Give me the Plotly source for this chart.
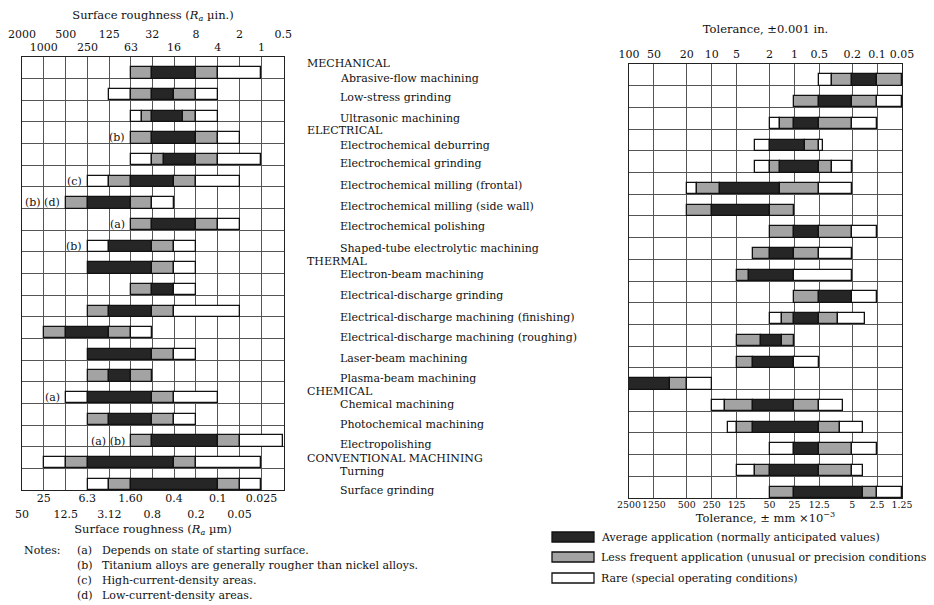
import plotly.graph_objects as go
import math

# ---------------- data ----------------
processes = [
    "Abrasive-flow machining", "Low-stress grinding", "Ultrasonic machining",
    "Electrochemical deburring", "Electrochemical grinding",
    "Electrochemical milling (frontal)", "Electrochemical milling (side wall)",
    "Electrochemical polishing", "Shaped-tube electrolytic machining",
    "Electron-beam machining", "Electrical-discharge grinding",
    "Electrical-discharge machining (finishing)", "Electrical-discharge machining (roughing)",
    "Laser-beam machining", "Plasma-beam machining",
    "Chemical machining", "Photochemical machining", "Electropolishing",
    "Turning", "Surface grinding",
]
groups = ["MECHANICAL", "ELECTRICAL", "THERMAL", "CHEMICAL", "CONVENTIONAL MACHINING"]

# Surface roughness, Ra (µin.) - band edges, left to right:
# rare | less frequent | average | less frequent | rare
rough_e0 = [63, 125, 63, 63, 63, 250, 500, 63, 250, 250, 63, 250, 1000, 250, 250, 500, 250, 63, 1000, 250]
rough_e1 = [63, 63, 44, 63, 32, 125, 500, 63, 125, 250, 63, 250, 1000, 250, 250, 250, 250, 63, 500, 125]
rough_e2 = [32, 32, 32, 32, 22, 63, 250, 32, 125, 250, 32, 125, 500, 250, 125, 250, 125, 32, 250, 63]
rough_e3 = [8, 16, 12, 8, 8, 16, 63, 8, 32, 32, 16, 32, 125, 32, 63, 32, 32, 4, 16, 4]
rough_e4 = [4, 8, 8, 4, 4, 8, 32, 4, 16, 16, 16, 16, 63, 16, 32, 16, 16, 2, 8, 2]
rough_e5 = [1, 4, 4, 2, 1, 2, 16, 2, 8, 8, 8, 2, 32, 8, 32, 4, 8, 0.5, 1, 1]

# Tolerance, ±0.001 in. - band edges, left to right
tol_e0 = [0.5, 1, 2, 3, 3, 20, 20, 2, 3.2, 5, 1, 2, 5, 5, 100, 10, 6.3, 2, 5, 2]
tol_e1 = [0.35, 1, 1.5, 2, 2, 15, 20, 2, 3.2, 5, 1, 1.4, 5, 5, 100, 7, 5, 1, 3, 2]
tol_e2 = [0.2, 0.5, 1, 2, 1.5, 8, 10, 1, 2, 3.5, 0.5, 1, 2.5, 3.2, 100, 3.2, 3.2, 1, 2, 1]
tol_e3 = [0.1, 0.2, 0.5, 0.75, 0.5, 1.5, 2, 0.5, 1, 1, 0.2, 0.5, 1.4, 1, 32, 1, 0.5, 0.5, 0.5, 0.15]
tol_e4 = [0.05, 0.1, 0.2, 0.5, 0.35, 0.5, 1, 0.2, 0.5, 1, 0.2, 0.3, 1, 1, 20, 0.5, 0.28, 0.2, 0.2, 0.1]
tol_e5 = [0.05, 0.05, 0.1, 0.45, 0.2, 0.2, 1, 0.1, 0.2, 0.2, 0.1, 0.14, 1, 0.5, 10, 0.26, 0.15, 0.1, 0.15, 0.05]

row_notes = {3: "(b)", 5: "(c)", 6: "(b) (d)", 7: "(a)", 8: "(b)", 15: "(a)", 17: "(a) (b)"}

# Axis ticks
rough_uin_ticks = [2000, 1000, 500, 250, 125, 63, 32, 16, 8, 4, 2, 1, 0.5]
rough_uin_text = ["2000", "1000", "500", "250", "125", "63", "32", "16", "8", "4", "2", "1", "0.5"]
rough_um_ticks = [50, 25, 12.5, 6.3, 3.12, 1.60, 0.8, 0.4, 0.2, 0.1, 0.05, 0.025, 0.012]
rough_um_text = ["50", "25", "12.5", "6.3", "3.12", "1.60", "0.8", "0.4", "0.2", "0.1", "0.05", "0.025", "0.012"]
tol_in_ticks = [100, 50, 20, 10, 5, 2, 1, 0.5, 0.2, 0.1, 0.05]
tol_in_text = ["100", "50", "20", "10", "5", "2", "1", "0.5", "0.2", "0.1", "0.05"]
tol_mm_ticks = [2500, 1250, 500, 250, 125, 50, 25, 12.5, 5, 2.5, 1.25]
tol_mm_text = ["2500", "1250", "500", "250", "125", "50", "25", "12.5", "5", "2.5", "1.25"]

legend_labels = [
    "Average application (normally anticipated values)",
    "Less frequent application (unusual or precision conditions)",
    "Rare (special operating conditions)",
]
notes_lines = [
    ("(a)", "Depends on state of starting surface."),
    ("(b)", "Titanium alloys are generally rougher than nickel alloys."),
    ("(c)", "High-current-density areas."),
    ("(d)", "Low-current-density areas."),
]

# ---------------- style / layout ----------------
W, H = 934, 605
OFF = 8  # page margin of the html body
FONT = "DejaVu Serif"
FS = 11
BLACK, GRAY, WHITE = "#262626", "#a3a3a3", "#ffffff"
seg_colors = [WHITE, GRAY, BLACK, GRAY, WHITE]
seg_names = ["Rare", "Less frequent", "Average", "Less frequent", "Rare"]
GRIDC = "#555555"


def px_x(p):
    return (p - OFF) / W


def px_y(p):
    return 1 - (p - OFF) / H


N = len(processes)
bar_pos = [i + 0.74 for i in range(N)]
BAR_W = 0.52

fig = go.Figure()


def add_bars(edges, xaxis, yaxis):
    for k in range(5):
        lo = edges[k]
        hi = edges[k + 1]
        base, size = [], []
        for a, b in zip(lo, hi):
            if a == b:
                base.append(None)
                size.append(None)
            else:
                base.append(min(a, b))
                size.append(abs(a - b))
        fig.add_trace(go.Bar(
            orientation="h", y=bar_pos, x=size, base=base, width=BAR_W,
            marker=dict(color=seg_colors[k], line=dict(color="#111111", width=1.3)),
            name=seg_names[k], showlegend=False, xaxis=xaxis, yaxis=yaxis,
            hoverinfo="skip",
        ))


add_bars([rough_e0, rough_e1, rough_e2, rough_e3, rough_e4, rough_e5], "x", "y")
add_bars([tol_e0, tol_e1, tol_e2, tol_e3, tol_e4, tol_e5], "x2", "y2")


# invisible helper traces so that the secondary (overlay) axes are rendered
def helper(xvals, xaxis, yaxis):
    fig.add_trace(go.Scatter(x=xvals, y=[0] * len(xvals), mode="markers",
                             marker=dict(opacity=0, size=1), xaxis=xaxis, yaxis=yaxis,
                             hoverinfo="skip", showlegend=False))


helper(rough_uin_ticks, "x3", "y")
helper(rough_um_ticks, "x4", "y")
helper(rough_um_ticks, "x5", "y")
helper(tol_mm_ticks, "x6", "y2")

# geometry (reference pixels)
L_X0, L_X1, L_Y0, L_Y1 = 22, 284, 57, 490
R_X0, R_X1, R_Y0, R_Y1 = 629, 902, 64, 498

tickfont = dict(family=FONT, size=FS, color="#111")
titlefont = dict(family=FONT, size=FS + 0.5, color="#111")

rough_range = [math.log10(2000), math.log10(2000 / 4096)]
rough_um_range = [math.log10(50), math.log10(50 / 4096)]
tol_range = [2, math.log10(0.05)]
tol_mm_range = [math.log10(2500), math.log10(1.25)]

near_top_vals = [v for i, v in enumerate(rough_uin_ticks) if i % 2 == 1]
near_top_text = [t for i, t in enumerate(rough_uin_text) if i % 2 == 1]
far_top_vals = [v for i, v in enumerate(rough_uin_ticks) if i % 2 == 0]
far_top_text = [t for i, t in enumerate(rough_uin_text) if i % 2 == 0]
near_bot_vals = [v for i, v in enumerate(rough_um_ticks) if i % 2 == 1]
near_bot_text = [t for i, t in enumerate(rough_um_text) if i % 2 == 1]
far_bot_vals = [v for i, v in enumerate(rough_um_ticks) if i % 2 == 0]
far_bot_text = [t for i, t in enumerate(rough_um_text) if i % 2 == 0]

common_axis = dict(type="log", autorange=False, ticks="", zeroline=False,
                   automargin=False, fixedrange=True, tickangle=0)
grid = dict(showgrid=True, gridcolor=GRIDC, gridwidth=1)

fig.update_layout(
    template="none",
    width=W, height=H,
    margin=dict(l=0, r=0, t=0, b=0, pad=0),
    paper_bgcolor="white", plot_bgcolor="white",
    barmode="overlay", bargap=0,
    font=dict(family=FONT, size=FS, color="#111"),
    showlegend=False,
    xaxis=dict(**common_axis, **grid, tickfont=tickfont, domain=[px_x(L_X0), px_x(L_X1)],
               range=rough_range, anchor="y", side="top", tickvals=near_top_vals,
               ticktext=near_top_text,
               showline=True, mirror=True, linecolor="#222", linewidth=1.3),
    xaxis3=dict(**common_axis, **grid, tickfont=tickfont, range=rough_range, overlaying="x",
                anchor="free", position=px_y(L_Y0 - 17), side="top", tickvals=far_top_vals,
                ticktext=far_top_text, showline=False,
                title=dict(text="Surface roughness (<i>R</i><sub><i>a</i></sub> µin.)",
                           font=titlefont, standoff=9)),
    xaxis4=dict(**common_axis, tickfont=tickfont, range=rough_um_range, overlaying="x",
                anchor="y", side="bottom", tickvals=near_bot_vals, ticktext=near_bot_text,
                showgrid=False, showline=False),
    xaxis5=dict(**common_axis, tickfont=tickfont, range=rough_um_range, overlaying="x",
                anchor="free", position=px_y(L_Y1 + 16), side="bottom", tickvals=far_bot_vals,
                ticktext=far_bot_text, showgrid=False, showline=False,
                title=dict(text="Surface roughness (<i>R</i><sub><i>a</i></sub> µm)",
                           font=titlefont, standoff=4)),
    yaxis=dict(domain=[px_y(L_Y1), px_y(L_Y0)], range=[N, 0], autorange=False,
               tickvals=list(range(N + 1)), showticklabels=False, ticks="", **grid,
               zeroline=False, automargin=False,
               showline=True, mirror=True, linecolor="#222", linewidth=1.3, anchor="x",
               fixedrange=True),
    xaxis2=dict(**common_axis, **grid, tickfont=tickfont, domain=[px_x(R_X0), px_x(R_X1)],
                range=tol_range, anchor="y2", side="top", tickvals=tol_in_ticks,
                ticktext=tol_in_text,
                showline=True, mirror=True, linecolor="#222", linewidth=1.3,
                title=dict(text="Tolerance, ±0.001 in.", font=titlefont, standoff=12)),
    xaxis6=dict(**common_axis, tickfont=dict(family=FONT, size=9.4, color="#111"),
                range=tol_mm_range, overlaying="x2", anchor="y2", side="bottom",
                tickvals=tol_mm_ticks, ticktext=tol_mm_text, showgrid=False, showline=False,
                title=dict(text="Tolerance, ± mm ×10<sup>−3</sup>", font=titlefont, standoff=3)),
    yaxis2=dict(domain=[px_y(R_Y1), px_y(R_Y0)], range=[N, 0], autorange=False,
                tickvals=list(range(N + 1)), showticklabels=False, ticks="", **grid,
                zeroline=False, automargin=False,
                showline=True, mirror=True, linecolor="#222", linewidth=1.3, anchor="x2",
                fixedrange=True),
)

annotations = []
txtfont = dict(family=FONT, size=FS, color="#111")
# category labels in the middle column
label_rows_px = [78, 98, 118, 145, 163, 185, 206, 227, 249, 274, 295, 317, 337, 358, 378, 405, 425, 444, 471, 490]
group_px = [63, 130, 261, 391, 458]
for g, py in zip(groups, group_px):
    annotations.append(dict(text=g, x=px_x(305), y=px_y(py), xref="paper", yref="paper",
                            xanchor="left", yanchor="middle", showarrow=False, font=txtfont))
for name, py in zip(processes, label_rows_px):
    annotations.append(dict(text=name, x=px_x(338), y=px_y(py), xref="paper", yref="paper",
                            xanchor="left", yanchor="middle", showarrow=False, font=txtfont))

# footnote markers next to the roughness bars
for r, txt in row_notes.items():
    annotations.append(dict(text=txt, x=math.log10(rough_e0[r]), y=bar_pos[r], xref="x", yref="y",
                            xanchor="right", yanchor="middle", xshift=-4, showarrow=False,
                            font=txtfont))

# notes block
annotations.append(dict(text="Notes:", x=px_x(22), y=px_y(550), xref="paper", yref="paper",
                        xanchor="left", yanchor="middle", showarrow=False, font=txtfont))
for i, (tag, txt) in enumerate(notes_lines):
    py = 550 + i * 15.3
    annotations.append(dict(text=tag, x=px_x(75), y=px_y(py), xref="paper", yref="paper",
                            xanchor="left", yanchor="middle", showarrow=False, font=txtfont))
    annotations.append(dict(text=txt, x=px_x(100), y=px_y(py), xref="paper", yref="paper",
                            xanchor="left", yanchor="middle", showarrow=False, font=txtfont))

# legend (swatches + text)
shapes = []
legend_fill = [BLACK, GRAY, WHITE]
legend_py = [537, 557, 578]
for lab, col, py in zip(legend_labels, legend_fill, legend_py):
    shapes.append(dict(type="rect", xref="paper", yref="paper",
                       x0=px_x(552), x1=px_x(594), y0=px_y(py + 5), y1=px_y(py - 5),
                       fillcolor=col, line=dict(color="#111", width=1.3)))
    annotations.append(dict(text=lab, x=px_x(599), y=px_y(py), xref="paper", yref="paper",
                            xanchor="left", yanchor="middle", showarrow=False, font=txtfont))

fig.update_layout(annotations=annotations, shapes=shapes)
fig.write_html("out.html")
